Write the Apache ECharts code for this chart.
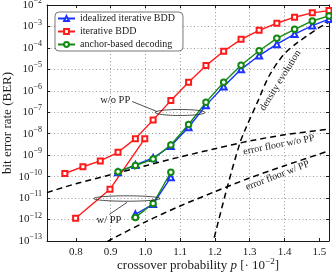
<!DOCTYPE html>
<html><head><meta charset="utf-8">
<script src="https://cdn.jsdelivr.net/npm/echarts@6/dist/echarts.min.js"></script>
<style>html,body{margin:0;padding:0;background:#fff}#c{width:332px;height:272px}</style>
</head><body><div id="c"></div>
<script>
// ---------- data ----------
const pRed = [0.768,0.820,0.870,0.921,0.971,1.022,1.073,1.124,1.174,1.225,1.275,1.327,1.378,1.429,1.480,1.528];
const berRed = [1.4e-10,2.9e-10,5.4e-10,1.36e-9,5.9e-9,4.4e-8,3.5e-7,2.5e-6,1.5e-5,7.0e-5,2.5e-4,6.6e-4,1.41e-3,2.7e-3,4.3e-3,5.5e-3];
const pRedPP = [0.799,0.898,0.998];
const berRedPP = [1.15e-12,2.6e-11,5.9e-9];
const pIdeal = [0.921,0.971,1.022,1.073,1.124,1.174,1.225,1.275,1.327,1.378,1.429,1.480,1.528];
const berIdeal = [1.6e-10,3.5e-10,7.4e-10,2.7e-9,2.0e-8,2.1e-7,1.6e-6,1.0e-5,4.4e-5,1.5e-4,4.4e-4,1.1e-3,2.2e-3];
const berAnchor = [1.7e-10,3.3e-10,6.6e-10,3.0e-9,2.7e-8,2.9e-7,2.5e-6,1.55e-5,7.4e-5,2.8e-4,7.4e-4,1.8e-3,3.1e-3];
const pPP = [0.971,1.022,1.073];
const berIdealPP = [1.75e-12,5.3e-12,9.3e-11];
const berAnchorPP = [1.26e-12,5.6e-12,1.6e-10];
const pDE = [1.191,1.2356,1.2722,1.2865,1.3247,1.3555,1.3966,1.4351,1.4684,1.4972,1.5213,1.528];
const berDE = [5.2e-14,3.4e-11,3.9e-9,1.5e-8,3.7e-7,4.9e-6,4.7e-5,1.66e-4,4.0e-4,8.3e-4,1.4e-3,1.6e-3];
const pFloorNoPP = [0.7167,0.8,0.9,1.0,1.1,1.2,1.3,1.4,1.528];
const berFloorNoPP = [1.8e-11,4.7e-11,1.23e-10,3.2e-10,8.3e-10,2.0e-9,4.6e-9,8.9e-9,1.66e-8];
const pFloorPP = [0.890,0.908,1.0,1.1,1.2,1.3,1.4,1.528];
const berFloorPP = [9.3e-14,1.35e-13,7.8e-13,4.3e-12,2.0e-11,8.7e-11,3.2e-10,1.6e-9];
const xTickValues = [0.8,0.9,1.0,1.1,1.2,1.3,1.4,1.5];
const yTickExponents = [-13,-12,-11,-10,-9,-8,-7,-6,-5,-4,-3,-2];
const legendNames = ['idealized iterative BDD','iterative BDD','anchor-based decoding'];

// ---------- annotations (data coordinates: [p, log10 BER]) ----------
const ellipses = [
  {c:[1.0997,-7.01], hw:0.0718, hh:0.14},
  {c:[0.9466,-11.02], hw:0.0957, hh:0.126}
];
const pointers = [
  {from:[0.962,-6.50], to:[1.034,-6.97]},
  {from:[0.896,-11.76], to:[0.947,-11.20]}
];
const notes = [
  {text:'w/o PP', at:[0.913,-6.46], rot:0, size:10.5},
  {text:'w/ PP', at:[0.895,-12.03], rot:0, size:10.5},
  {text:'density evolution', at:[1.388,-5.52], rot:58, size:10},
  {text:'error floor w/o PP', at:[1.384,-8.52], rot:11, size:10},
  {text:'error floor w/ PP', at:[1.380,-9.95], rot:21, size:10}
];

// ---------- chart ----------
const FONT = 'Liberation Serif';
const INK = '#1a1a1a';
const RED = '#ff1a1a', BLUE = '#1a33ff', GREEN = '#128a12';
const pts = (xs, ys) => xs.map((x, i) => [x, Math.log10(ys[i])]);
const expLabel = v => '{b|10}{s|' + (v < 0 ? '\u2212' : '') + Math.abs(Math.round(v)) + '}';
const rich = {
  b:{fontFamily:FONT,fontSize:11,color:INK},
  s:{fontFamily:FONT,fontSize:8,color:INK,padding:[0,0,8,0]}
};
const richName = {
  i:{fontFamily:FONT,fontSize:13,color:INK,fontStyle:'italic'},
  s:{fontFamily:FONT,fontSize:9,color:INK,padding:[0,0,9,0]}
};

function markSeries(name, xs, ys, color, symbol, size) {
  return {type:'line', name, data:pts(xs, ys), xAxisIndex:0, yAxisIndex:0,
    symbol, symbolSize:size, showSymbol:true,
    lineStyle:{color, width:1.4}, itemStyle:{color, borderWidth:1},
    emphasis:{disabled:true}, animation:false, clip:true};
}
function dashSeries(xs, ys, smooth) {
  return {type:'line', name:'_dash', data:pts(xs, ys), xAxisIndex:0, yAxisIndex:0,
    symbol:'none', smooth, lineStyle:{color:'#000', width:1.5, type:[6,4]},
    emphasis:{disabled:true}, animation:false, clip:true, silent:true};
}

const chart = echarts.init(document.getElementById('c'));
const xBase = {type:'value', min:0.7167, max:1.528, splitNumber:8,
  axisLine:{show:true, onZero:false, lineStyle:{color:INK, width:1}}};
const yBase = {type:'value', min:-13, max:-2, interval:1,
  axisLine:{show:true, onZero:false, lineStyle:{color:INK, width:1}}};

chart.setOption({
  animation:false,
  grid:{left:47, right:3, top:5, bottom:31, outerBoundsMode:'none', containLabel:false},
  xAxis:[
    Object.assign({}, xBase, {position:'bottom',
      name:'crossover probability {i|p} [\u00b7 10{s|\u22122}]',
      nameLocation:'middle', nameGap:16, nameMoveOverlap:false,
      nameTextStyle:{fontFamily:FONT, fontSize:13, color:INK, rich:richName, padding:[0,0,0,20]},
      axisTick:{show:true, inside:true, length:3, lineStyle:{color:INK}, customValues:xTickValues},
      axisLabel:{customValues:xTickValues, fontFamily:FONT, fontSize:11, color:INK, margin:6,
        formatter:v => v.toFixed(1)},
      splitLine:{show:true, showMinLine:false, showMaxLine:false,
        lineStyle:{color:'#9a9a9a', type:[1,2.5], width:1}}}),
    Object.assign({}, xBase, {position:'top',
      axisTick:{show:true, inside:true, length:3, lineStyle:{color:INK}, customValues:xTickValues},
      axisLabel:{show:false}, splitLine:{show:false}})
  ],
  yAxis:[
    Object.assign({}, yBase, {position:'left',
      name:'bit error rate (BER)', nameLocation:'middle', nameGap:33, nameRotate:90, nameMoveOverlap:false,
      nameTextStyle:{fontFamily:FONT, fontSize:13, color:INK},
      axisTick:{show:true, inside:true, length:3, lineStyle:{color:INK}, customValues:yTickExponents},
      axisLabel:{customValues:yTickExponents, formatter:expLabel, rich, margin:5},
      splitLine:{show:true, showMinLine:false, showMaxLine:false,
        lineStyle:{color:'#9a9a9a', type:[1,2.5], width:1}}}),
    Object.assign({}, yBase, {position:'right',
      axisTick:{show:true, inside:true, length:3, lineStyle:{color:INK}, customValues:yTickExponents},
      axisLabel:{show:false}, splitLine:{show:false}})
  ],
  legend:{
    data:legendNames, orient:'vertical', left:55, top:12,
    itemWidth:17, itemHeight:6, itemGap:2,
    padding:[1,8,1,2],
    backgroundColor:'#fff', borderColor:'#555', borderWidth:0.8, borderRadius:4,
    textStyle:{fontFamily:FONT, fontSize:10, color:INK, lineHeight:11},
    selectedMode:false
  },
  series:[
    dashSeries(pFloorNoPP, berFloorNoPP, 0.3),
    dashSeries(pFloorPP, berFloorPP, 0.3),
    dashSeries(pDE, berDE, 0.3),
    markSeries(legendNames[0], pIdeal, berIdeal, BLUE, 'emptyTriangle', 6),
    markSeries(legendNames[0], pPP, berIdealPP, BLUE, 'emptyTriangle', 6),
    markSeries(legendNames[1], pRed, berRed, RED, 'emptyRect', 5),
    markSeries(legendNames[1], pRedPP, berRedPP, RED, 'emptyRect', 5),
    markSeries(legendNames[2], pIdeal, berAnchor, GREEN, 'emptyCircle', 5.5),
    markSeries(legendNames[2], pPP, berAnchorPP, GREEN, 'emptyCircle', 5.5)
  ]
});

const px = d => chart.convertToPixel({xAxisIndex:0, yAxisIndex:0}, d);
const graphics = [];
ellipses.forEach(e => {
  const c = px(e.c);
  const r1 = px([e.c[0] + e.hw, e.c[1] + e.hh]);
  graphics.push({type:'ellipse', silent:true, z:50,
    shape:{cx:c[0], cy:c[1], rx:Math.abs(r1[0]-c[0]), ry:Math.abs(r1[1]-c[1])},
    style:{fill:'none', stroke:'#222', lineWidth:0.8}});
});
pointers.forEach(l => {
  const a = px(l.from), b = px(l.to);
  graphics.push({type:'line', silent:true, z:50,
    shape:{x1:a[0], y1:a[1], x2:b[0], y2:b[1]},
    style:{stroke:'#222', lineWidth:0.8}});
});
notes.forEach(n => {
  const a = px(n.at);
  graphics.push({type:'text', silent:true, z:50, x:a[0], y:a[1], rotation:n.rot*Math.PI/180,
    style:{text:n.text, fontFamily:FONT, fontSize:n.size, fill:INK, align:'center', verticalAlign:'middle'}});
});
chart.setOption({graphic:graphics});
</script></body></html>
